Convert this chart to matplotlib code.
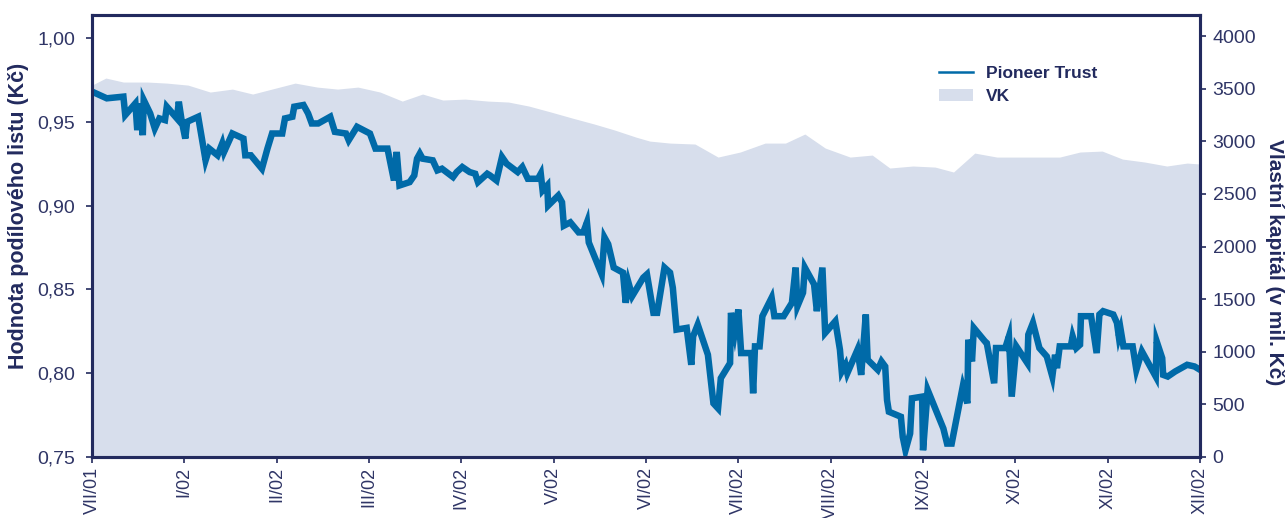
import matplotlib.pyplot as plt
from matplotlib.lines import Line2D
from matplotlib.patches import Patch

# month labels (one tick per label, equally spaced)
months = ['VII/01', 'I/02', 'II/02', 'III/02', 'IV/02', 'V/02', 'VI/02',
          'VII/02', 'VIII/02', 'IX/02', 'X/02', 'XI/02', 'XII/02']

# Pioneer Trust - value of unit (Kc), x in months from start
pt_x = [0.00, 0.16, 0.34, 0.36, 0.47, 0.49, 0.52, 0.55, 0.56, 0.63,
        0.68, 0.73, 0.79, 0.81, 0.92, 0.94, 0.97, 1.01, 1.03, 1.15,
        1.23, 1.27, 1.36, 1.41, 1.43, 1.52, 1.64, 1.66, 1.72, 1.84,
        1.90, 1.95, 2.06, 2.09, 2.17, 2.19, 2.29, 2.34, 2.38, 2.45,
        2.58, 2.63, 2.75, 2.78, 2.87, 3.01, 3.07, 3.20, 3.27, 3.30,
        3.33, 3.44, 3.49, 3.52, 3.55, 3.58, 3.69, 3.74, 3.79, 3.91,
        3.95, 4.01, 4.09, 4.15, 4.18, 4.28, 4.31, 4.38, 4.44, 4.49,
        4.61, 4.66, 4.72, 4.83, 4.86, 4.88, 4.93, 4.94, 5.05, 5.09,
        5.11, 5.18, 5.27, 5.32, 5.36, 5.38, 5.52, 5.55, 5.59, 5.65,
        5.75, 5.78, 5.81, 5.85, 5.97, 6.01, 6.08, 6.12, 6.20, 6.26,
        6.29, 6.33, 6.44, 6.49, 6.51, 6.56, 6.67, 6.73, 6.78, 6.81,
        6.91, 6.92, 6.96, 7.00, 7.03, 7.14, 7.16, 7.18, 7.23, 7.26,
        7.36, 7.39, 7.49, 7.58, 7.62, 7.64, 7.70, 7.72, 7.82, 7.85,
        7.91, 7.94, 8.05, 8.10, 8.12, 8.16, 8.18, 8.29, 8.33, 8.38,
        8.40, 8.51, 8.55, 8.59, 8.61, 8.63, 8.76, 8.78, 8.81, 8.86,
        8.88, 8.99, 9.00, 9.05, 9.22, 9.26, 9.31, 9.43, 9.48, 9.49,
        9.53, 9.55, 9.67, 9.69, 9.77, 9.79, 9.89, 9.93, 9.96, 10.01,
        10.13, 10.14, 10.19, 10.26, 10.34, 10.40, 10.43, 10.45, 10.48, 10.60,
        10.62, 10.66, 10.70, 10.71, 10.82, 10.88, 10.91, 10.95, 11.06, 11.10,
        11.12, 11.14, 11.17, 11.27, 11.31, 11.37, 11.43, 11.52, 11.53, 11.59,
        11.60, 11.65, 11.73, 11.86, 11.94, 12.00]
pt_val = [0.968, 0.964, 0.965, 0.954, 0.961, 0.945, 0.961, 0.942, 0.963, 0.955,
          0.946, 0.952, 0.951, 0.959, 0.952, 0.962, 0.951, 0.940, 0.950, 0.953,
          0.927, 0.934, 0.930, 0.937, 0.932, 0.943, 0.940, 0.930, 0.930, 0.922,
          0.934, 0.943, 0.943, 0.952, 0.953, 0.959, 0.960, 0.955, 0.949, 0.949,
          0.953, 0.944, 0.943, 0.939, 0.947, 0.943, 0.934, 0.934, 0.915, 0.932,
          0.912, 0.914, 0.918, 0.928, 0.931, 0.928, 0.927, 0.921, 0.922, 0.917,
          0.920, 0.923, 0.920, 0.919, 0.914, 0.919, 0.918, 0.915, 0.929, 0.925,
          0.920, 0.923, 0.916, 0.916, 0.919, 0.909, 0.912, 0.900, 0.906, 0.902,
          0.888, 0.890, 0.884, 0.884, 0.890, 0.878, 0.859, 0.881, 0.877, 0.863,
          0.860, 0.842, 0.854, 0.846, 0.857, 0.859, 0.836, 0.836, 0.863, 0.860,
          0.851, 0.826, 0.827, 0.805, 0.822, 0.829, 0.811, 0.782, 0.779, 0.797,
          0.806, 0.836, 0.824, 0.838, 0.812, 0.812, 0.788, 0.816, 0.816, 0.834,
          0.845, 0.834, 0.834, 0.842, 0.863, 0.840, 0.848, 0.863, 0.853, 0.837,
          0.863, 0.824, 0.831, 0.814, 0.801, 0.805, 0.800, 0.814, 0.799, 0.835,
          0.808, 0.802, 0.807, 0.804, 0.784, 0.777, 0.774, 0.762, 0.754, 0.764,
          0.785, 0.786, 0.754, 0.790, 0.767, 0.758, 0.758, 0.792, 0.782, 0.820,
          0.807, 0.827, 0.819, 0.818, 0.794, 0.815, 0.815, 0.822, 0.786, 0.816,
          0.806, 0.823, 0.830, 0.815, 0.810, 0.798, 0.811, 0.803, 0.816, 0.816,
          0.822, 0.815, 0.817, 0.834, 0.834, 0.812, 0.835, 0.837, 0.835, 0.830,
          0.822, 0.826, 0.816, 0.816, 0.802, 0.813, 0.807, 0.798, 0.819, 0.809,
          0.799, 0.798, 0.801, 0.805, 0.804, 0.802]

# VK - equity (mil. Kc)
vk_x = [0.00, 0.15, 0.34, 0.60, 0.81, 1.04, 1.28, 1.52, 1.74, 2.20,
        2.44, 2.66, 2.88, 3.12, 3.36, 3.58, 3.80, 4.04, 4.29, 4.51,
        4.73, 4.97, 5.20, 5.44, 5.66, 5.89, 6.04, 6.26, 6.53, 6.78,
        7.02, 7.29, 7.51, 7.72, 7.94, 8.21, 8.45, 8.64, 8.89, 9.13,
        9.33, 9.56, 9.80, 10.48, 10.70, 10.94, 11.16, 11.40, 11.64, 11.86,
        12.00]
vk_val = [3534, 3601, 3563, 3563, 3553, 3534, 3468, 3496, 3449, 3553,
          3515, 3496, 3515, 3468, 3382, 3449, 3392, 3401, 3382, 3373,
          3335, 3278, 3221, 3164, 3107, 3040, 3002, 2983, 2974, 2850,
          2898, 2983, 2983, 3069, 2936, 2850, 2869, 2746, 2765, 2755,
          2708, 2888, 2850, 2850, 2898, 2907, 2831, 2803, 2765, 2793,
          2784]

navy = '#222a5e'
line_blue = '#006aa8'
fill_col = '#d7deec'

plt.rcParams['font.family'] = ['Liberation Sans', 'DejaVu Sans']

fig = plt.figure(figsize=(12.85, 5.18), dpi=100)
ax = fig.add_axes([0.0716, 0.1178, 0.8623, 0.8532])
ax2 = ax.twinx()

ax2.fill_between(vk_x, vk_val, 0, color=fill_col, lw=0)
ax.plot(pt_x, pt_val, color=line_blue, lw=4.7, solid_joinstyle='miter')

ax.set_zorder(ax2.get_zorder() + 1)
ax.patch.set_visible(False)

ax.set_xlim(0, 12)
ax.set_ylim(0.75, 1.0137)
ax2.set_ylim(0, 4200)

ax.set_yticks([0.75, 0.80, 0.85, 0.90, 0.95, 1.00])
ax.set_yticklabels(['0,75', '0,80', '0,85', '0,90', '0,95', '1,00'])
ax2.set_yticks(range(0, 4001, 500))
ax.set_xticks(range(len(months)))
ax.set_xticklabels(months, rotation=90)

for a in (ax, ax2):
    for s in a.spines.values():
        s.set_color(navy)
        s.set_linewidth(2.2)
    a.tick_params(colors=navy, labelcolor='#2f3566', labelsize=14,
                  length=4, width=1.2)
ax.tick_params(axis='y', pad=8)
ax2.tick_params(axis='y', pad=5)
ax.tick_params(axis='x', labelsize=13, pad=3)

ax.set_ylabel('Hodnota podílového listu (Kč)', color=navy, fontsize=15.5,
              fontweight='bold', va='center')
ax.yaxis.set_label_coords(-0.066, 0.545)
ax2.set_ylabel('Vlastní kapitál (v mil. Kč)', color=navy, fontsize=15,
               fontweight='bold', rotation=270, va='center')
ax2.yaxis.set_label_coords(1.067, 0.44)

handles = [Line2D([], [], color=line_blue, lw=1.8),
           Patch(facecolor=fill_col, edgecolor='none')]
ax.legend(handles, ['Pioneer Trust', 'VK'], loc='upper left',
          bbox_to_anchor=(0.75, 0.92), frameon=False,
          prop={'weight': 'bold', 'size': 12.5}, labelcolor=navy,
          handlelength=2.0, handletextpad=0.7, labelspacing=0.45)

fig.savefig('out.png', dpi=100)
